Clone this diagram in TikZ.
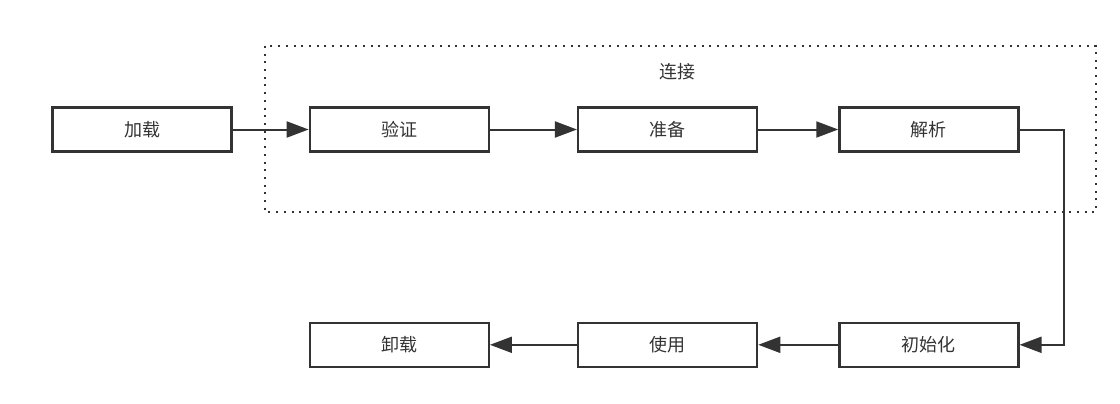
\documentclass[tikz,border=0pt]{standalone}
\usepackage{fontspec}
\setmainfont{Noto Sans CJK SC}
\usepackage{tikz}
\usetikzlibrary{arrows.meta,positioning}

\definecolor{inkgray}{HTML}{333333}

\begin{document}
\begin{tikzpicture}[
        x=1pt, y=-1pt,
        stage/.style={rectangle, draw=inkgray, line width=2.3pt, minimum width=179pt, minimum height=44pt, inner sep=0pt, align=center, text=inkgray, font=\fontsize{18}{20}\selectfont},
        arrow/.style={-{Triangle[length=22pt,width=16pt]}, line width=2pt, draw=inkgray},
        linkbox/.style={draw=inkgray, line width=2pt, dash pattern=on 2pt off 5.7pt}
    ]
    \useasboundingbox (0,0) rectangle (1120,404);

    % Frame of the linking phase
    \draw[linkbox] (265,46) rectangle (1096,212);
    \node[text=inkgray, font=\fontsize{18}{20}\selectfont] (linklabel) at (677,72) {连接};

    % Top row
    \node[stage] (load) at (142,129.5) {加载};
    \node[stage, right=76pt of load] (verify) {验证};
    \node[stage, right=87pt of verify] (prepare) {准备};
    \node[stage, right=80pt of prepare] (resolve) {解析};

    % Bottom row
    \node[stage, below=169pt of resolve] (init) {初始化};
    \node[stage, left=80pt of init] (use) {使用};
    \node[stage, left=87pt of use] (unload) {卸载};

    % Arrows
    \draw[arrow] (load) -- (verify);
    \draw[arrow] (verify) -- (prepare);
    \draw[arrow] (prepare) -- (resolve);
    \draw[arrow] (resolve.east) -- ++(44,0) |- (init.east);
    \draw[arrow] (init) -- (use);
    \draw[arrow] (use) -- (unload);

\end{tikzpicture}
\end{document}
